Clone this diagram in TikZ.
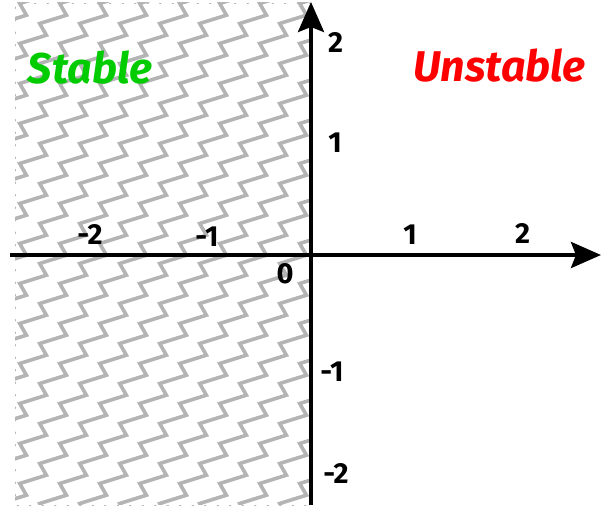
\documentclass[tikz,border=0pt]{standalone}
\usepackage{fontspec}
\setmainfont{Fira Sans}
\usetikzlibrary{arrows.meta}
\definecolor{stablegreen}{RGB}{0,204,0}
\definecolor{unstablered}{RGB}{255,0,0}
\definecolor{zigzaggray}{RGB}{180,180,180}
\begin{document}
\begin{tikzpicture}[line cap=round,line join=round,x=1pt,y=1pt,
	axis/.style={line width=4pt,line cap=butt,-{Stealth[length=30pt,width=26pt,inset=5pt]}},
	ticklabel/.style={font=\fontsize{29}{29}\selectfont\bfseries},
	regionlabel/.style={font=\fontsize{43}{43}\selectfont\bfseries\itshape}]
		\useasboundingbox (0,0) rectangle (602,508);
		\begin{scope}
			\clip (15,3) rectangle (311,505);
			\foreach \i in {-12,...,10}
				\draw[zigzaggray,line width=3.6pt,line join=miter] ({-100.3+40*(\i)},-15.5) \foreach \k in {1,...,28}{ -- ++(26.7,8.3) -- ++(-6.7,11.7) };
		\end{scope}
		\draw[zigzaggray,line width=0.8pt,dash pattern=on 1.5pt off 11pt] (311,505) -- (15,505) -- (15,3) -- (311,3);
		\coordinate (xstart) at (10,253);
		\coordinate (xend) at (601,253);
		\coordinate (ystart) at (311,3);
		\coordinate (yend) at (311,506);
		\draw[axis] (xstart) -- (xend);
		\draw[axis] (ystart) -- (yend);
		\node[ticklabel] (xm2) at (90,273) {-2};
		\node[ticklabel] (xm1) at (207,271.5) {-1};
		\node[ticklabel] (orig) at (285,234) {0};
		\node[ticklabel] (xp1) at (410,273) {1};
		\node[ticklabel] (xp2) at (522.5,275) {2};
		\node[ticklabel] (yp2) at (335.5,465.5) {2};
		\node[ticklabel] (yp1) at (335,365) {1};
		\node[ticklabel] (ym1) at (332,136.5) {-1};
		\node[ticklabel] (ym2) at (336,34.5) {-2};
		\node[regionlabel,text=stablegreen] (stable) at (90,440) {Stable};
		\node[regionlabel,text=unstablered] (unstable) at (499.5,442) {Unstable};
	\end{tikzpicture}
\end{document}
